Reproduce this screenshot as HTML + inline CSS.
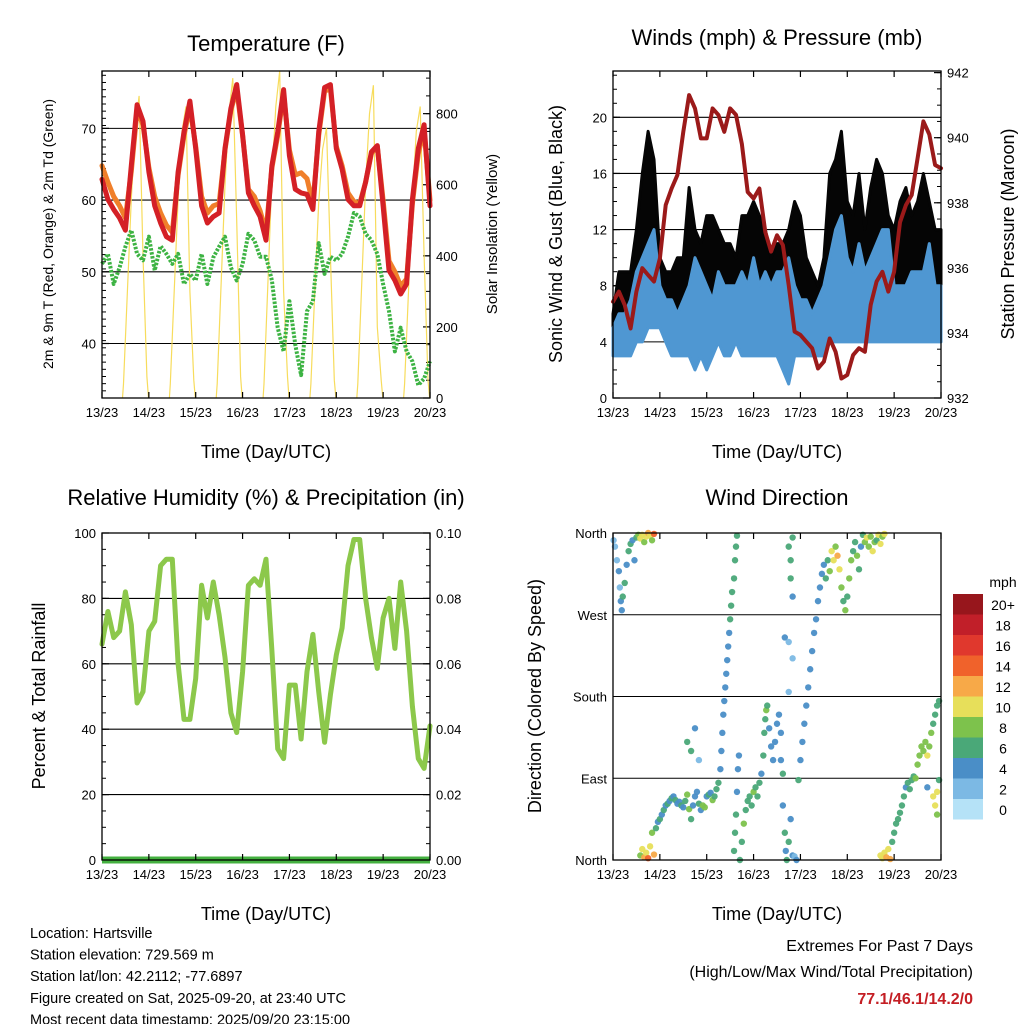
<!DOCTYPE html>
<html><head><meta charset="utf-8"><style>
body{margin:0;background:#fff;}
svg text{font-family:"Liberation Sans",sans-serif;fill:#000;}
</style></head><body>
<svg id="s" width="1024" height="1024" viewBox="0 0 1024 1024" xmlns="http://www.w3.org/2000/svg">
<rect x="0" y="0" width="1024" height="1024" fill="#fff"/>
</svg>
<script>
// ===== data (3-hourly, hour 0 = 13/23 UTC) =====
const dayLabels = ["13/23","14/23","15/23","16/23","17/23","18/23","19/23","20/23"];
const tempRed = [62.9,60.1,58.7,57.5,55.8,64.8,73.3,71,63.9,59.2,56.8,54.9,54.4,63.9,69.5,73.8,67.2,59.2,56.8,57.7,58.2,67.2,72.8,76.1,69.1,61,59.2,57.7,54.4,64.8,69.5,75.4,66.2,61.5,61,60.8,58.7,69.5,75.7,76.1,67.2,64.3,60.1,59.2,59.2,62.5,66.7,67.6,59.2,50.2,48.8,46.9,48.3,60.1,67.2,70.5,59.2];
const tempOrange = [64.8,62.5,60.5,59.2,57.5,64,72.5,70.5,64.5,60.5,58.2,56.5,55.5,63.5,69,73,67.5,60.5,58.2,59.2,59.5,67,72.5,75.5,69,61.5,60.5,58.5,55.5,64.5,69,74.8,67,63.5,63.8,63,59.5,69,75.2,75.5,67.5,64.8,61,59.8,59.5,62.5,66.5,67.5,60,51.5,50,48,49,59.5,66.5,69.8,60];
const tempDew = [51.1,52.5,48.3,50.6,53.5,55.8,52.5,51.6,54.9,50.2,53.6,52.5,51.1,52.5,48.3,49.7,48.8,52.5,48.3,52,53.5,54.9,50.6,48.8,51.1,55.3,54.4,52.1,52.1,48.8,42.2,38.9,45.9,39.8,35.6,44.5,45.9,54,49.7,52.1,51.6,52.5,54.9,58.2,57.7,55.3,54.4,52.5,48.3,44.5,38.9,42.2,38.9,37.5,34.2,35.1,37.5];
const solarHours = [10.5,11,13,15,17,19,21,23,23.8];
const solarDay13 = [0,40,300,560,760,850,400,60,0];
const solarDay14 = [0,40,300,560,750,820,300,50,0];
const solarDay15 = [0,40,320,600,800,900,500,60,0];
const solarDay16 = [0,40,330,620,820,920,300,60,0];
const solarDay17 = [0,40,300,550,700,760,400,50,0];
const solarDay18 = [0,40,320,600,800,880,200,50,0];
const solarDay19 = [0,40,300,560,750,820,400,50,0];
const solarDays = [solarDay13,solarDay14,solarDay15,solarDay16,solarDay17,solarDay18,solarDay19];
const pressure = [934.96,935.27,934.86,934.14,935.27,935.99,935.78,935.58,936.29,937.93,938.44,938.85,940.18,941.31,940.9,939.98,939.98,940.9,940.7,940.18,940.9,940.7,939.8,938.33,938.13,938.44,937.1,936.5,937,936.7,935.47,934.04,933.94,933.73,933.53,932.91,933.12,933.83,933.42,932.6,932.71,933.32,933.53,933.42,934.86,935.58,935.88,935.27,935.88,937.4,937.93,938.24,939.37,940.5,940.1,939.16,939.06];
const windHigh = [5,6,6,7,9,10,11,12,8,7,7,6,7,8,10,9,8,7,9,8,8,8,9,8,10,8,9,8,9,9,10,8,7,7,6,7,8,10,12,13,10,9,11,9,10,11,12,12,8,8,8,9,9,9,11,8,8];
const windLow = [3,3,3,3,4,4,5,5,5,4,3,3,3,3,2,3,2,3,4,3,3,4,3,3,3,3,3,3,3,2,1,3,3,3,3,3,3,4,4,4,4,4,4,4,4,4,4,4,4,4,4,4,4,4,4,4,4];
const gustHigh = [6,9,9,9,12,16,19,17,10,9,9,10,10,15,12,11,13,13,12,11,11,10,13,13,14,13,12,10,11,11,12,14,13,10,9,8,10,16,17,19,14,13,16,12,15,17,16,13,12,14,15,13,14,16,14,12,12];
const rh = [66,76,68,70,82,72,48,51.5,70,73,90,92,92,60,43,43,55.5,84,74,85,75,62,45,39,57.6,84,86,84,92,64,34,31,53.5,53.5,37,57.6,69,51.5,36,50.5,62.7,71,90,98,98,80,68,58.6,74,80,64.7,85,70,47,31,28,41];
const precip = [0,0,0,0,0,0,0,0,0,0,0,0,0,0,0,0,0,0,0,0,0,0,0,0,0,0,0,0,0,0,0,0,0,0,0,0,0,0,0,0,0,0,0,0,0,0,0,0,0,0,0,0,0,0,0,0,0];
const dirHours = [0.3,1,2,3,3.5,4,4.5,5,6,7,8,9,10,11,12,13,14,15,16,17,18,19,20,21,14,15,16,17,18,19,20,21,22,23,24,25,26,27,28,29,30,31,32,33,34,35,36,37,38,39,40,41,42,43,44,45,46,47,48,49,50,51,52,53,54,38,42,44,40,55,55.5,56,56.5,57,57.5,58,58.5,59,59.5,60,60.5,61,62,62.5,63,63.5,62,62.5,63,63.5,64,64.5,65,66,67,68,69,70,71,72,73,74,75,76,77,77.5,78,78.5,79,80,81,82,83,84,85,86,86,87,87,88,88.5,89,90,91,92,90,91,92,91,92,88,90,92,90,93,94,95,96,97,98,99,100,101,102,103,104,105,106,107,108,109,110,111,112,113,114,115,116,117,118,119,120,121,122,123,124,125,126,127,128,129,130,131,132,133,134,135,136,137,138,139,137,138,139,140,141,142,143,144,145,146,147,148,149,150,151,152,153,154,155,156,157,158,159,160,161,162,163,164,165,166,167,165,166,164,167,166,161];
const dirDeg = [352,345,330,318,300,285,275,290,305,325,340,348,352,330,355,358,354,358,350,356,360,357,352,359,5,12,3,8,2,15,30,6,35,42,45,50,55,60,62,65,68,70,66,62,64,60,58,65,72,56,45,60,70,75,62,55,60,58,70,72,74,66,70,78,85,130,145,110,120,100,120,140,160,175,190,205,220,235,250,265,280,295,310,330,345,357,10,30,50,75,100,115,0,20,40,55,65,70,60,75,80,70,85,95,115,140,155,165,170,145,125,110,130,150,160,140,110,95,60,30,10,0,20,45,5,345,330,355,310,290,245,240,222,185,4,0,88,110,130,150,170,190,210,230,250,265,285,300,315,325,310,330,318,340,330,345,335,320,300,285,275,290,310,330,340,350,335,320,345,358,350,355,345,356,340,350,352,358,348,356,359,5,2,8,3,12,1,20,30,40,45,52,60,70,80,85,78,88,92,90,105,115,125,120,130,115,125,140,150,160,170,175,60,75,70,88,50,80];
const dirSpeed = [3,2,3,4,3,4,4,6,6,5,6,6,4,4,6,8,10,10,8,10,12,10,9,14,8,10,12,10,14,10,8,12,6,5,6,4,6,5,6,4,6,4,6,5,4,6,4,6,8,8,6,4,5,4,6,4,8,8,4,6,5,8,6,6,6,6,4,3,6,4,4,4,4,4,4,4,4,4,4,6,6,6,6,6,6,6,6,6,6,4,4,4,6,6,8,6,6,6,6,8,6,6,6,4,6,6,6,8,6,4,4,4,4,4,4,4,4,6,4,6,4,6,6,4,4,6,6,6,6,4,4,2,2,2,2,4,6,4,4,4,4,4,4,4,4,4,4,4,4,4,6,6,8,10,10,8,12,10,8,6,8,6,8,8,6,6,8,6,4,6,8,10,8,8,10,8,6,10,10,8,10,10,10,10,12,10,12,6,6,6,6,6,6,6,4,6,6,6,6,8,8,8,8,8,8,10,8,8,6,6,6,6,10,10,10,6,8,4];
const speedColors = ["#b5e2f7","#7cb9e4","#4a8ec7","#4aa878","#7dc24c","#e7df5a","#f7a948","#f0622b","#e0382d","#c11f29","#97161c"];
const speedLabels = ["0","2","4","6","8","10","12","14","16","18","20+"];
const extremes = "77.1/46.1/14.2/0";

// ===== helpers =====
const NS="http://www.w3.org/2000/svg";
const svg=document.getElementById('s');
function mk(tag,attrs,parent){const e=document.createElementNS(NS,tag);for(const k in attrs)e.setAttribute(k,attrs[k]);(parent||svg).appendChild(e);return e;}
function txt(str,x,y,size,anchor,parent,extra){const t=mk('text',Object.assign({x:x,y:y,'font-size':size,'text-anchor':anchor||'middle'},extra||{}),parent);t.textContent=str;return t;}
function panel(name,L,T,R,B){const g=mk('g',{});return {g,L,T,R,B,x:h=>L+h/168*(R-L)};}
function frame(p){
  const r=mk('rect',{x:p.L,y:p.T,width:p.R-p.L,height:p.B-p.T,fill:'none',stroke:'#000','stroke-width':1.3},p.g);
  
  for(let d=0;d<8;d++){const x=p.x(d*24);
    mk('line',{x1:x,y1:p.B,x2:x,y2:p.B-6,stroke:'#000','stroke-width':1.2},p.g);
    mk('line',{x1:x,y1:p.T,x2:x,y2:p.T+6,stroke:'#000','stroke-width':1.2},p.g);
    const t=txt(dayLabels[d],x,p.B+19,13,'middle',p.g);
    }
  const xt=txt('Time (Day/UTC)',(p.L+p.R)/2,p.B+60,18,'middle',p.g);
  
}
function yAxis(p,vmin,vmax,major,minor,labels,side,grid,fmt){
  const y=v=>p.B-(v-vmin)/(vmax-vmin)*(p.B-p.T);
  const xs=side==='left'?p.L:p.R, dir=side==='left'?1:-1;
  for(let v=vmin;v<=vmax+1e-9;v+=minor){const yy=y(v);
    if(yy<p.T-0.5)continue;
    mk('line',{x1:xs,y1:yy,x2:xs+dir*4,y2:yy,stroke:'#000','stroke-width':1},p.g);}
  labels.forEach(v=>{const yy=y(v);
    mk('line',{x1:xs,y1:yy,x2:xs+dir*7,y2:yy,stroke:'#000','stroke-width':1.2},p.g);
    if(grid)mk('line',{x1:p.L,y1:yy,x2:p.R,y2:yy,stroke:'#000','stroke-width':1.1},p.g);
    const t=txt(fmt?fmt(v):String(v),side==='left'?xs-6:xs+6,yy+5,13,side==='left'?'end':'start',p.g);
    });
  return y;
}
function ytitle(str,x,y,size,name,parent){const t=txt(str,x,y,size,'middle',parent,{transform:`rotate(-90 ${x} ${y})`});}
function title(str,x,y,name){const t=txt(str,x,y,22,'middle');}
function poly(p,vals,yf,attrs,name){const pts=vals.map((v,i)=>p.x(i*3).toFixed(1)+','+yf(v).toFixed(1)).join(' ');
  const e=mk('polyline',Object.assign({points:pts,fill:'none','stroke-linejoin':'round','stroke-linecap':'round'},attrs),p.g);
  return e;}

// ===== Temperature =====
title('Temperature (F)',266,51,'temperature-title');
const p1=panel('temperature-panel',102,71,430,398);
const yT=yAxis(p1,32.4,78,5,1,[40,50,60,70],'left',true);
const yS=yAxis(p1,0,920,200,50,[0,200,400,600,800],'right',false);
solarDays.forEach((arr,d)=>{const pts=arr.map((v,i)=>p1.x(d*24+solarHours[i]).toFixed(1)+','+yS(v).toFixed(1)).join(' ');
  const e=mk('polyline',{points:pts,fill:'none',stroke:'#f6d84a','stroke-width':1.2,opacity:0.9},p1.g);
  
  });
poly(p1,tempDew,yT,{stroke:'#3db343','stroke-width':4,'stroke-dasharray':'2.5 1.5','stroke-linecap':'butt'},'dewpoint-line');
poly(p1,tempOrange,yT,{stroke:'#f07f2a','stroke-width':5},'temp-9m-line');
poly(p1,tempRed,yT,{stroke:'#d42026','stroke-width':5},'temp-2m-line');
frame(p1);
ytitle('2m & 9m T (Red, Orange) & 2m Td (Green)',53,234,14,'left-y-axis-title');
ytitle('Solar Insolation (Yellow)',497,234,15,'right-y-axis-title');

// ===== Winds =====
title('Winds (mph) & Pressure (mb)',777,45,'winds-title');
const p2=panel('winds-panel',613,71,941,398);
const yW=yAxis(p2,0,23.3,4,1,[0,4,8,12,16,20],'left',true);
const yP=yAxis(p2,932,942.05,2,0.5,[932,934,936,938,940,942],'right',false);
function band(p,lo,hi,yf,color,name,off){
  const top=hi.map((v,i)=>p.x(i*3).toFixed(1)+','+yf(v).toFixed(1));
  const bot=lo.map((v,i)=>p.x(i*3).toFixed(1)+','+yf(v+(off||0)).toFixed(1)).reverse();
  const e=mk('polygon',{points:top.concat(bot).join(' '),fill:color,stroke:color,'stroke-width':3,'stroke-linejoin':'round'},p.g);
  }
band(p2,windLow,gustHigh,yW,'#050505','gust-points',2);
band(p2,windLow,windHigh,yW,'#4f97d2','sonic-wind-line',0);
poly(p2,pressure,yP,{stroke:'#9b1a1a','stroke-width':4},'pressure-line');
frame(p2);
ytitle('Sonic Wind & Gust (Blue, Black)',562,234,18,'left-y-axis-title');
ytitle('Station Pressure (Maroon)',1014,234,18,'right-y-axis-title');

// ===== RH =====
title('Relative Humidity (%) & Precipitation (in)',266,505,'humidity-title');
const p3=panel('humidity-panel',102,533,430,860);
const yR=yAxis(p3,0,100,20,5,[0,20,40,60,80,100],'left',true);
yAxis(p3,0,0.1,0.02,0.005,[0,0.02,0.04,0.06,0.08,0.1],'right',false,v=>v.toFixed(2));
poly(p3,rh,yR,{stroke:'#8cc84b','stroke-width':5},'humidity-line');
poly(p3,precip,v=>860-v*3270,{stroke:'#44b040','stroke-width':7,'stroke-linecap':'butt'},'precip-line');
frame(p3);
ytitle('Percent & Total Rainfall',45,696,18,'left-y-axis-title');

// ===== Wind direction =====
title('Wind Direction',777,505,'wind-direction-title');
const p4=panel('wind-direction-panel',613,533,941,860);
const yD=d=>p4.B-d/360*(p4.B-p4.T);
["North","East","South","West","North"].forEach((n,i)=>{const yy=yD(i*90);
  mk('line',{x1:p4.L,y1:yy,x2:p4.R,y2:yy,stroke:'#000','stroke-width':1.1},p4.g);
  const t=txt(n,p4.L-6,yy+5,13,'end',p4.g);
  
  });
dirHours.forEach((h,i)=>{const c=speedColors[Math.min(10,Math.floor(dirSpeed[i]/2))];
  const e=mk('circle',{cx:p4.x(h),cy:yD(dirDeg[i]),r:3.2,fill:c,opacity:0.95},p4.g);
  
  });
frame(p4);
ytitle('Direction (Colored By Speed)',541,696,18,'left-y-axis-title');

// colorbar
const cb=mk('g',{});
txt('mph',1003,587,14,'middle',cb);
for(let i=0;i<11;i++){const yy=594+(10-i)*20.5;
  const r=mk('rect',{x:953,y:yy,width:30,height:20.5,fill:speedColors[i]},cb);
  
  const t=txt(speedLabels[i],1003,yy+16,14,'middle',cb);
  }

// ===== footer =====
const info=["Location: Hartsville","Station elevation: 729.569 m","Station lat/lon: 42.2112; -77.6897","Figure created on Sat, 2025-09-20, at 23:40 UTC","Most recent data timestamp: 2025/09/20 23:15:00"];
info.forEach((s,i)=>{const t=txt(s,30,938+i*21.6,14.5,'start');});
let t=txt('Extremes For Past 7 Days',973,951,16,'end');
t=txt('(High/Low/Max Wind/Total Precipitation)',973,977,16,'end');
t=txt(extremes,973,1004,16,'end',null,{'font-weight':'bold',style:'fill:#c41e24'});
</script>
</body></html>
